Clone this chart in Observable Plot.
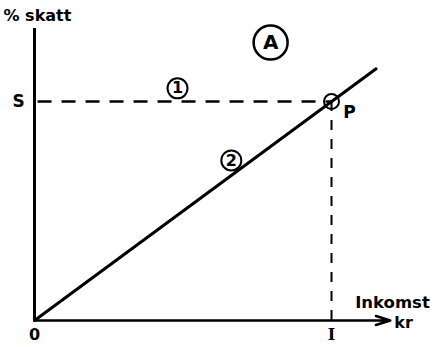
<!DOCTYPE html>
<html>
<head>
<meta charset="utf-8">
<script src="https://cdn.jsdelivr.net/npm/d3@7"></script>
<script src="https://cdn.jsdelivr.net/npm/@observablehq/plot@0.6"></script>
<style>
  html, body { margin: 0; padding: 0; background: #fff; }
</style>
</head>
<body>
<div id="chart"></div>
<script>
// Data (relative units: income on x, tax % on y)
const lineIncome = [0, 0.965];
const lineTax = [0, 0.862];
const pointI = 0.839;   // income I
const pointS = 0.75;    // tax level S
const xTickValues = [0, pointI];
const xTickLabels = ["0", "I"];
const yTickValues = [pointS];
const yTickLabels = ["S"];
const circledLabels = ["1", "2"];
const circledX = [0.404, 0.556];
const circledY = [0.795, 0.548];

const lineData = lineIncome.map((x, i) => ({x, y: lineTax[i]}));
const circled = circledLabels.map((t, i) => ({t, x: circledX[i], y: circledY[i]}));
const xTicks = xTickValues.map((v, i) => ({x: v, t: xTickLabels[i]}));
const font = "DejaVu Sans";

const chart = Plot.plot({
  width: 436,
  height: 347,
  marginLeft: 34,
  marginRight: 48,
  marginTop: 28,
  marginBottom: 27,
  x: {domain: [0, 1], axis: null},
  y: {domain: [0, 1], axis: null},
  style: {fontFamily: font, background: "#fff", overflow: "visible"},
  marks: [
    // dashed guides
    Plot.ruleY([pointS], {x1: 0.01, x2: pointI, stroke: "black", strokeWidth: 2.5, strokeDasharray: "14,10"}),
    Plot.ruleX([pointI], {y1: 0, y2: pointS, stroke: "black", strokeWidth: 2, strokeDasharray: "10,9"}),
    // axes
    Plot.ruleX([0], {y1: 0, y2: 1, stroke: "black", strokeWidth: 3}),
    Plot.arrow([{x1: 0, y1: 0, x2: 1.005, y2: 0}], {x1: "x1", y1: "y1", x2: "x2", y2: "y2", stroke: "black", strokeWidth: 2.5, headLength: 9, headAngle: 35}),
    // tax line
    Plot.line(lineData, {x: "x", y: "y", stroke: "black", strokeWidth: 3}),
    // point P
    Plot.dot([{x: pointI, y: pointS}], {x: "x", y: "y", r: 7.5, stroke: "black", strokeWidth: 2, fill: "none"}),
    Plot.text([{x: pointI, y: pointS, t: "P"}], {x: "x", y: "y", text: "t", dx: 18, dy: 11, fontSize: 17, fontWeight: "bold", fill: "black"}),
    // circled numbers
    Plot.dot(circled, {x: "x", y: "y", r: 10, stroke: "black", strokeWidth: 2, fill: "white"}),
    Plot.text(circled, {x: "x", y: "y", text: "t", fontSize: 16, fontWeight: "bold", fill: "black"}),
    // circled A
    Plot.dot([{x: 0.667, y: 0.952}], {x: "x", y: "y", r: 17, stroke: "black", strokeWidth: 2.5, fill: "white"}),
    Plot.text([{x: 0.667, y: 0.952, t: "A"}], {x: "x", y: "y", text: "t", fontSize: 20, fontWeight: "bold", fill: "black"}),
    // tick labels
    Plot.text(xTicks.slice(0, 1), {x: "x", y: 0, text: "t", dy: 14, fontSize: 16, fontWeight: "bold", fill: "black"}),
    Plot.text(xTicks.slice(1), {x: "x", y: 0, text: "t", dy: 14, fontSize: 16, fontWeight: "bold", fill: "black", fontFamily: "DejaVu Serif"}),
    Plot.text(yTickValues.map((v, i) => ({y: v, t: yTickLabels[i]})), {x: 0, y: "y", text: "t", dx: -16, fontSize: 17, fontWeight: "bold", fill: "black"}),
    // axis titles
    Plot.text(["% skatt"], {x: 0, y: 1, text: d => d, textAnchor: "start", dx: -31, dy: -13, fontSize: 16, fontWeight: "bold", fill: "black"}),
    Plot.text(["Inkomst"], {x: 1, y: 0, text: d => d, textAnchor: "middle", dx: 4, dy: -18, fontSize: 16.5, fontWeight: "bold", fill: "black"}),
    Plot.text(["kr"], {x: 1, y: 0, text: d => d, textAnchor: "middle", dx: 15, dy: 2, fontSize: 16, fontWeight: "bold", fill: "black"})
  ]
});
document.getElementById("chart").appendChild(chart);
</script>
</body>
</html>
